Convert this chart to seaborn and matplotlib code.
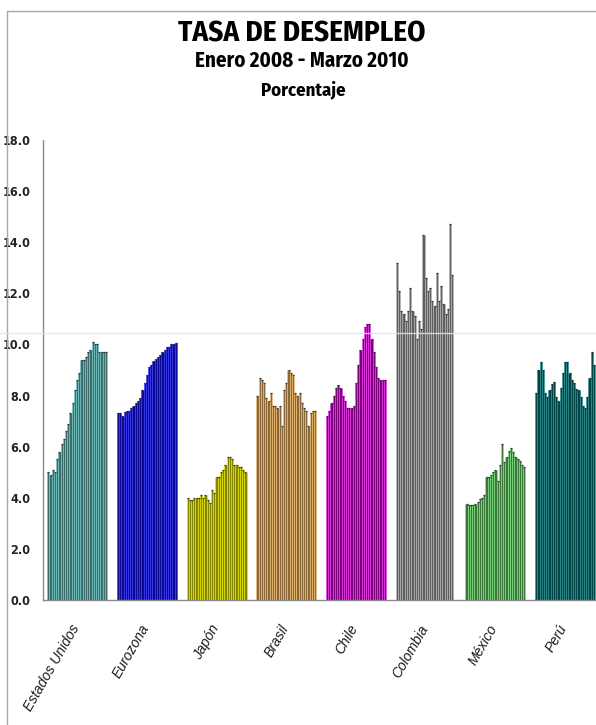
import numpy as np
import pandas as pd
import matplotlib
matplotlib.use("Agg")
import matplotlib.pyplot as plt
import matplotlib.transforms as mtransforms
from matplotlib.lines import Line2D
from matplotlib import font_manager
import seaborn as sns

# Monthly unemployment rate, Jan 2008 - Mar 2010 (percent)
paises = ["Estados Unidos", "Eurozona", "Japón", "Brasil", "Chile",
          "Colombia", "México", "Perú"]

estados_unidos = [5.0, 4.9, 5.1, 5.0, 5.5, 5.8, 6.1, 6.3, 6.6, 6.9, 7.3, 7.7, 8.2, 8.6,
                  8.9, 9.4, 9.4, 9.5, 9.7, 9.8, 10.1, 10.0, 10.0, 9.7, 9.7, 9.7, 9.7]
eurozona = [7.3, 7.3, 7.2, 7.35, 7.4, 7.4, 7.5, 7.6, 7.7, 7.8, 7.9, 8.2, 8.5, 8.8,
            9.1, 9.2, 9.35, 9.45, 9.5, 9.6, 9.7, 9.8, 9.9, 9.9, 10.0, 10.0, 10.05]
japon = [4.0, 3.9, 3.9, 4.0, 4.0, 4.0, 4.1, 4.0, 4.1, 3.9, 3.8, 4.3, 4.2, 4.8,
         4.8, 5.0, 5.1, 5.3, 5.6, 5.6, 5.5, 5.3, 5.3, 5.2, 5.2, 5.1, 5.0]
brasil = [8.0, 8.7, 8.6, 8.5, 7.9, 7.8, 8.1, 7.6, 7.6, 7.5, 7.6, 6.8, 8.2, 8.5,
          9.0, 8.9, 8.8, 8.1, 8.0, 8.1, 7.7, 7.5, 7.4, 6.8, 7.3, 7.4, 7.4]
chile = [7.2, 7.4, 7.7, 8.0, 8.3, 8.4, 8.3, 8.0, 7.8, 7.5, 7.5, 7.5, 7.6, 8.5,
         9.2, 9.8, 10.2, 10.7, 10.8, 10.8, 10.2, 9.7, 9.1, 8.7, 8.6, 8.6, 8.6]
colombia = [13.2, 12.1, 11.3, 11.2, 10.9, 11.3, 12.2, 11.3, 11.1, 10.2, 10.9, 10.6, 14.3,
            12.6, 12.1, 12.2, 11.7, 11.5, 12.8, 11.7, 12.3, 11.6, 11.2, 11.4, 14.7, 12.7,
            np.nan]
mexico = [3.75, 3.7, 3.7, 3.7, 3.75, 3.85, 3.95, 4.0, 4.1, 4.8, 4.8, 4.9, 5.0, 5.1,
          4.65, 5.3, 6.1, 5.4, 5.6, 5.85, 5.95, 5.8, 5.6, 5.5, 5.45, 5.3, 5.2]
peru = [8.1, 9.0, 9.3, 9.0, 8.1, 7.95, 8.2, 8.45, 8.55, 7.95, 7.8, 8.3, 8.9, 9.3,
        9.3, 8.9, 8.6, 8.5, 8.25, 8.2, 7.95, 7.6, 7.5, 7.95, 8.7, 9.7, 9.2]

series = [estados_unidos, eurozona, japon, brasil, chile, colombia, mexico, peru]
meses = list(range(1, 28))

# front face and highlight colour of each country's columns
oscuro = ["#3c6c6c", "#0a0a94", "#858500", "#8a683a", "#7e007c", "#5f5f5f", "#397839", "#004646"]
claro = ["#78d0d0", "#3c3cff", "#f2f200", "#ffc878", "#ff3cff", "#bdbdbd", "#8cf08c", "#2e9494"]

filas = []
for pais, valores in zip(paises, series):
    for mes, v in zip(meses, valores):
        filas.append({"pais": pais, "mes": mes, "tasa": v})
df = pd.DataFrame(filas).dropna()

sns.set_theme(style="white")
plt.rcParams["font.family"] = ["DejaVu Sans"]

# condensed faces for the headings and the value axis
head_font = font_manager.FontProperties(
    family=["Fira Sans Condensed", "Asap Condensed", "DejaVu Sans"],
    stretch="condensed", weight="bold")
tick_font = font_manager.FontProperties(family="DejaVu Sans", stretch="condensed",
                                        weight="bold", size=9)

fig = plt.figure(figsize=(5.96, 7.25), dpi=100)
W, H = 596, 725
ax = fig.add_axes([43 / W, 125 / H, 557 / W, 460 / H])

sns.barplot(data=df, x="pais", y="tasa", hue="mes", order=paises, hue_order=meses,
            dodge=True, width=0.86, gap=0, errorbar=None, legend=False,
            palette=["#777777"] * len(meses), saturation=1, ax=ax)

caps_x, caps_y = [], []
for p in ax.patches:
    xc = p.get_x() + p.get_width() / 2
    i = int(round(xc))
    p.set_facecolor(oscuro[i])
    p.set_edgecolor(claro[i])
    p.set_linewidth(0.4)
    caps_x.append(xc)
    caps_y.append(p.get_height())
ax.plot(caps_x, caps_y, ls="none", marker="_", color="#1a1a1a", markersize=1.3,
        markeredgewidth=0.9, zorder=4, alpha=0.8)

ax.set_xlim(-0.49, 7.5)
ax.set_ylim(0, 18)
ticks = np.arange(0, 18.1, 2)
ax.set_yticks(ticks)
ax.set_yticklabels([f"{t:.1f}" for t in ticks], color="#222222")
for lab in ax.get_yticklabels():
    lab.set_fontproperties(tick_font)
ax.set_xlabel("")
ax.set_ylabel("")
ax.set_xticks(range(len(paises)))
ax.set_xticklabels(paises, rotation=60, ha="right", fontsize=10, fontstyle="italic",
                   color="#1a1a1a", family=["Liberation Sans", "DejaVu Sans"])
ax.tick_params(axis="x", length=0, pad=16)
ax.tick_params(axis="y", length=0, pad=9)
shift = mtransforms.ScaledTranslation(5 / 100, 0, fig.dpi_scale_trans)
for lab in ax.get_xticklabels():
    lab.set_transform(lab.get_transform() + shift)

for s in ["top", "right"]:
    ax.spines[s].set_visible(False)
for s in ["left", "bottom"]:
    ax.spines[s].set_color("#8a8a8a")
    ax.spines[s].set_linewidth(1.0)

# outer frame of the chart area
fig.add_artist(Line2D([6.5 / W, 6.5 / W], [0, 1 - 11 / H], color="#a8a8a8", lw=1.0))
fig.add_artist(Line2D([6.5 / W, 1], [1 - 11 / H, 1 - 11 / H], color="#a8a8a8", lw=1.0))
# faint guide line across the plot
fig.add_artist(Line2D([0, 1], [1 - 333 / H, 1 - 333 / H], color="#e2e2e2", lw=1.0,
                      alpha=0.85, zorder=5))

fig.text(302 / W, 1 - 34 / H, "TASA DE DESEMPLEO", ha="center", va="center",
         fontproperties=head_font, fontsize=21, color="black")
fig.text(302 / W, 1 - 61 / H, "Enero 2008 - Marzo 2010", ha="center", va="center",
         fontproperties=head_font, fontsize=15, color="black")
fig.text(303 / W, 1 - 90 / H, "Porcentaje", ha="center", va="center",
         fontproperties=head_font, fontsize=13.5, color="black")

fig.savefig("out.png", dpi=100)
